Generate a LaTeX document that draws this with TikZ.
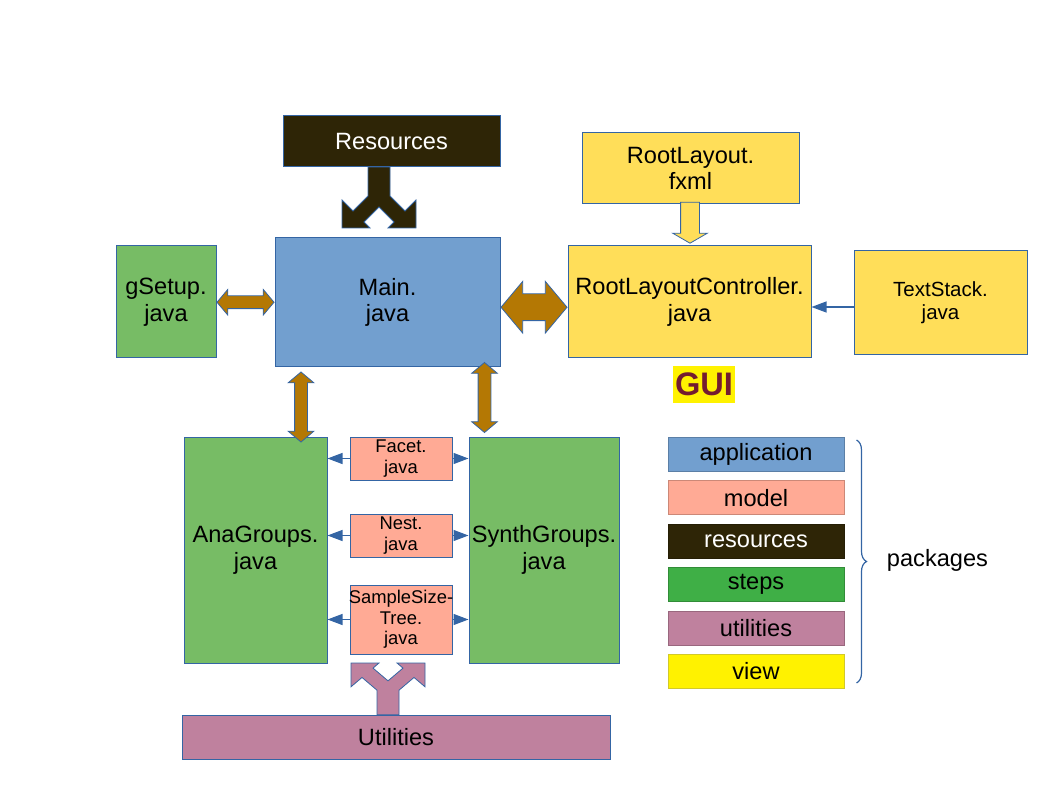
\documentclass[tikz,border=0pt]{standalone}
\usepackage{fontspec}
\setmainfont{Liberation Sans}
\usetikzlibrary{shapes.arrows,arrows.meta,calc,decorations.pathreplacing}

\definecolor{appblue}{HTML}{729FCF}
\definecolor{edgeblue}{HTML}{3465A4}
\definecolor{modelred}{HTML}{FFAA95}
\definecolor{resbrown}{HTML}{2E2506}
\definecolor{stepgreen}{HTML}{77BC65}
\definecolor{keygreen}{HTML}{3FAF46}
\definecolor{utilpink}{HTML}{BF819E}
\definecolor{guigold}{HTML}{FFDE59}
\definecolor{arrowgold}{HTML}{B47804}
\definecolor{guired}{HTML}{731C30}

\tikzset{
	box/.style={draw=edgeblue, line width=1pt, inner sep=0pt, align=center, font=\fontsize{23.6}{26.5}\selectfont},
	modelbox/.style={box, fill=modelred, minimum width=102pt, font=\fontsize{18.4}{20.5}\selectfont},
	keybox/.style={box, minimum width=176pt, minimum height=34pt, fill=#1, draw=#1!80!black},
	fatarrow/.style={double arrow, draw=edgeblue, line width=0.8pt, fill=arrowgold, inner sep=6pt, double arrow tip angle=100, minimum width=25pt, double arrow head extend=6.5pt},
	link/.style={draw=edgeblue, line width=1.2pt, -{Triangle[length=15pt,width=11pt]}},
	fork/.pic={
		\draw[pic actions] (-11,-61) -- (11,-61) -- (11,-32) -- (26,-17) -- (37,-28) -- (37,0) -- (9,0) -- (15,-6) -- (0,-21)
			-- (-15,-6) -- (-9,0) -- (-37,0) -- (-37,-28) -- (-26,-17) -- (-11,-32) -- cycle;
	}
}

\begin{document}
\begin{tikzpicture}[x=1pt,y=-1pt]
			\useasboundingbox (0,0) rectangle (1058,794);

			\pic[fill=resbrown, draw=edgeblue, line width=0.8pt] at (379,228) {fork};
			\node[box, fill=resbrown, text=white, minimum width=217pt, minimum height=51pt] (res) at (391.5,141.5) {Resources};

			\node[box, fill=guigold, minimum width=217pt, minimum height=71pt] (fxml) at (690.5,168.5) {RootLayout.\\fxml};
			\node[box, fill=appblue, minimum width=225pt, minimum height=129pt] (main) at (387.5,302.5) {Main.\\java};
			\node[box, fill=stepgreen, minimum width=100pt, minimum height=112pt] (gsetup) at (166,302) {gSetup.\\java};
			\node[box, fill=guigold, minimum width=243pt, minimum height=112pt] (ctrl) at (689.5,302) {RootLayoutController.\\java};
			\node[box, fill=guigold, minimum width=173pt, minimum height=104pt, font=\fontsize{20.5}{23}\selectfont] (stack) at (940.5,303) {TextStack.\\java};
			\node[fill=yellow, text=guired, inner sep=0pt, minimum width=62pt, minimum height=37pt, font=\bfseries\fontsize{32.6}{34}\selectfont] (gui) at (704,384.5) {GUI};

			\node[box, fill=stepgreen, minimum width=143pt, minimum height=226pt] (ana) at (255.5,550) {AnaGroups.\\java};
			\node[box, fill=stepgreen, minimum width=150pt, minimum height=226pt] (synth) at (544,550) {SynthGroups.\\java};
			\node[modelbox, minimum height=43pt] (facet) at (401,458.5) {Facet.\\java};
			\node[modelbox, minimum height=43pt] (nest) at (401,535.5) {Nest.\\java};
			\node[modelbox, minimum height=69pt] (sample) at (401,619.5) {\makebox[0pt]{SampleSize-}\\Tree.\\java};

			\pic[fill=utilpink, draw=edgeblue, line width=0.8pt, yscale=-0.85] at (388,663) {fork};
			\node[box, fill=utilpink, minimum width=428pt, minimum height=44pt] (util) at (396,737) {Utilities};

			\node[fatarrow, minimum height=57pt] (a1) at ($(gsetup.east)!.5!(main.west)$) {};
			\node[fatarrow, minimum height=66pt, minimum width=51pt, inner sep=13pt, double arrow head extend=12.5pt, yshift=-5pt] (a2) at ($(main.east)!.5!(ctrl.west)$) {};
			\node[fatarrow, rotate=90, minimum height=70pt, xshift=-5pt] (a3) at ($(main.south west)!.5!(ana.north east)$) {};
			\node[fatarrow, rotate=90, minimum height=70pt, xshift=4.5pt] (a4) at ($(main.south east)!.5!(synth.north west)$) {};
			\node[single arrow, rotate=-90, draw=edgeblue, line width=0.8pt, fill=guigold, inner sep=9pt, minimum width=34pt, single arrow head extend=8pt, single arrow tip angle=120, minimum height=41pt, xshift=-5pt] (a5) at ($(fxml.south)!.5!(ctrl.north)$) {};

			\draw[link] (facet.west) -- (facet.west -| ana.east);
			\draw[link] (facet.east) -- (facet.east -| synth.west);
			\draw[link] (nest.west) -- (nest.west -| ana.east);
			\draw[link] (nest.east) -- (nest.east -| synth.west);
			\draw[link] (sample.west) -- (sample.west -| ana.east);
			\draw[link] (sample.east) -- (sample.east -| synth.west);
			\draw[link] ([yshift=-4pt]stack.west) -- ([yshift=-4pt]stack.west -| ctrl.east);

			\node[keybox=appblue] (app) at (756,454.5) {application};
			\node[keybox=modelred] (model) at (756,497.9) {model};
			\node[keybox=resbrown, text=white] (resk) at (756,541.3) {resources};
			\node[keybox=keygreen] (steps) at (756,584.7) {steps};
			\node[keybox=utilpink] (utilk) at (756,628.1) {utilities};
			\node[keybox=yellow] (view) at (756,671.5) {view};

			\draw[edgeblue, line width=1.2pt, decorate, decoration={brace, amplitude=10pt}] ($(app.north east)+(12,3)$) -- ($(view.south east)+(12,-6)$);
			\node[font=\fontsize{23.6}{26.5}\selectfont] (pkg) at (937.5,560) {packages};

		\end{tikzpicture}
\end{document}
